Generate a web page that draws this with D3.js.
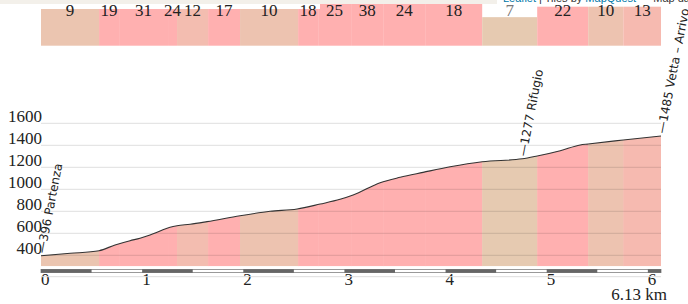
<!DOCTYPE html>
<html>
<head>
<meta charset="utf-8">
<script src="https://cdn.jsdelivr.net/npm/d3@7"></script>
<style>
    body { margin: 0; background: #fff; }
    svg { display: block; }
</style>
</head>
<body>
<div id="chart"></div>
<script>
// elevation profile, km / metres
var profileKm = [0, 0.29, 0.574, 0.732, 0.88, 0.979, 1.078, 1.177, 1.276, 1.345, 1.474, 1.642, 1.968, 2.265, 2.532, 2.76, 2.957, 3.086, 3.353, 3.551, 3.778, 4.045, 4.362, 4.758, 4.906, 5.134, 5.331, 5.41, 5.757, 6.13];
var profileElev = [396, 418, 442, 494, 533, 555, 585, 621, 655, 669, 682, 706, 760, 800, 821, 866, 909, 948, 1060, 1109, 1154, 1205, 1251, 1277, 1303, 1351, 1403, 1412, 1448, 1485];

// gradient segments (end km, percent)
var segEnd = [0.574, 0.772, 1.256, 1.345, 1.652, 1.968, 2.542, 2.74, 3.066, 3.383, 3.798, 4.362, 4.906, 5.41, 5.757, 6.13];
var segGrade = [9, 19, 31, 24, 12, 17, 10, 18, 25, 38, 24, 18, 7, 22, 10, 13];

// points of interest
var markerKm = [0, 4.758, 6.13];
var markerElev = [396, 1277, 1485];
var markerName = ["Partenza", "Rifugio", "Vetta \u2013 Arrivo"];

var yTicks = [400, 600, 800, 1000, 1200, 1400, 1600];
var xTicks = [0, 1, 2, 3, 4, 5, 6];
var totalKm = 6.13;

const w = 688;
const h = 304;
const serif = "'Liberation Serif', 'Times New Roman', serif";

const x = d3.scaleLinear().domain([0, totalKm]).range([41, 661]);
const y = d3.scaleLinear().domain([300, 1600]).range([266.3, 123.3]);
const band = d3.scaleLinear().domain([0, 9]).range([45.7, 9]);
const color = d3.scaleLinear()
    .domain([7, 10, 16])
    .range(["#e6cab1", "#edc3b0", "#ffb0b0"])
    .clamp(true);

const svg = d3.select("#chart")
    .append("svg")
    .attr("width", w)
    .attr("height", h);

var segs = segGrade.map((g, i) => ({ g: g, x0: i ? segEnd[i - 1] : 0, x1: segEnd[i] }));
var pts = profileKm.map((k, i) => [k, profileElev[i]]);

// gradient band at the top
svg.append("g").selectAll("rect")
    .data(segs)
    .enter()
    .append("rect")
    .attr("x", (d) => x(d.x0))
    .attr("width", (d) => x(d.x1) - x(d.x0))
    .attr("y", (d) => Math.max(band(d.g), 4))
    .attr("height", (d) => band(0) - Math.max(band(d.g), 4))
    .attr("fill", (d) => color(d.g));

// bits of the map that sits above the chart
svg.append("rect").attr("x", 0).attr("y", 0).attr("width", 497).attr("height", 4).attr("fill", "#f3f0ea");
svg.append("rect").attr("x", 41).attr("y", 4).attr("width", 279).attr("height", 5).attr("fill", "#fff");
svg.append("rect").attr("x", 497).attr("y", 0).attr("width", 191).attr("height", 6.7).attr("fill", "#fff");
var attr = svg.append("text")
    .attr("x", 503)
    .attr("y", 2)
    .style("font-family", "'Liberation Sans', Arial, sans-serif")
    .style("font-size", "11px");
attr.append("tspan").attr("fill", "#0078a8").text("Leaflet");
attr.append("tspan").attr("fill", "#333").text(" | Tiles by ");
attr.append("tspan").attr("fill", "#0078a8").text("MapQuest");
attr.append("tspan").attr("fill", "#333").text(" \u2014 Map data");

svg.append("g").selectAll("text")
    .data(segs)
    .enter()
    .append("text")
    .attr("x", (d) => (x(d.x0) + x(d.x1)) / 2)
    .attr("y", 16)
    .attr("text-anchor", "middle")
    .style("font-family", serif)
    .style("font-size", "17px")
    .attr("fill", (d) => d.g < 9 ? "#777" : "#222")
    .text((d) => d.g);

// profile fill, coloured by gradient
var area = d3.area()
    .x((d) => x(d[0]))
    .y0(y(300))
    .y1((d) => y(d[1]))
    .curve(d3.curveMonotoneX);

svg.append("clipPath")
    .attr("id", "profileClip")
    .append("path")
    .attr("d", area(pts));

svg.append("g")
    .attr("clip-path", "url(#profileClip)")
    .selectAll("rect")
    .data(segs)
    .enter()
    .append("rect")
    .attr("x", (d) => x(d.x0))
    .attr("width", (d) => x(d.x1) - x(d.x0) + 0.5)
    .attr("y", y(1700))
    .attr("height", y(300) - y(1700))
    .attr("fill", (d) => color(d.g));

// grid
svg.append("g").selectAll("line")
    .data(yTicks)
    .enter()
    .append("line")
    .attr("x1", x(0))
    .attr("x2", x(totalKm))
    .attr("y1", (d) => y(d))
    .attr("y2", (d) => y(d))
    .attr("stroke", "#000")
    .attr("stroke-opacity", 0.13);

svg.append("path")
    .datum(pts)
    .attr("fill", "none")
    .attr("stroke", "#333")
    .attr("stroke-width", 1.1)
    .attr("d", d3.line().x((d) => x(d[0])).y((d) => y(d[1])).curve(d3.curveMonotoneX));

svg.append("g").selectAll("text")
    .data(yTicks)
    .enter()
    .append("text")
    .attr("x", 42)
    .attr("y", (d) => y(d) - 1)
    .attr("text-anchor", "end")
    .style("font-family", serif)
    .style("font-size", "17px")
    .attr("fill", "#222")
    .text((d) => d);

// markers
svg.append("g").selectAll("text")
    .data(markerKm)
    .enter()
    .append("text")
    .attr("transform", (d, i) => "translate(" + (x(d) + 4) + "," + (y(markerElev[i]) - 2) + ") rotate(-79)")
    .style("font-family", "'DejaVu Sans', sans-serif")
    .style("font-size", "12px")
    .attr("fill", "#222")
    .text((d, i) => "\u2014" + markerElev[i] + " " + markerName[i]);

// distance scale bar
svg.append("rect")
    .attr("x", x(0))
    .attr("y", 269.5)
    .attr("width", x(totalKm) - x(0))
    .attr("height", 3)
    .attr("fill", "#fff")
    .attr("stroke", "#999")
    .attr("stroke-width", 1);

svg.append("g").selectAll("rect")
    .data(xTicks)
    .enter()
    .append("rect")
    .attr("x", (d) => x(d))
    .attr("y", 269.2)
    .attr("width", (d) => x(Math.min(d + 0.5, totalKm)) - x(d))
    .attr("height", 3.6)
    .attr("fill", "#666");

svg.append("g").selectAll("text")
    .data(xTicks)
    .enter()
    .append("text")
    .attr("x", (d) => x(d))
    .attr("y", 285)
    .style("font-family", serif)
    .style("font-size", "17px")
    .attr("fill", "#222")
    .text((d) => d);

svg.append("line")
    .attr("x1", x(0))
    .attr("x2", x(totalKm))
    .attr("y1", 276.7)
    .attr("y2", 276.7)
    .attr("stroke", "#ddd");

svg.append("text")
    .attr("x", x(totalKm) + 6)
    .attr("y", 300)
    .attr("text-anchor", "end")
    .style("font-family", serif)
    .style("font-size", "17px")
    .attr("fill", "#222")
    .text(totalKm + " km");
</script>
</body>
</html>
